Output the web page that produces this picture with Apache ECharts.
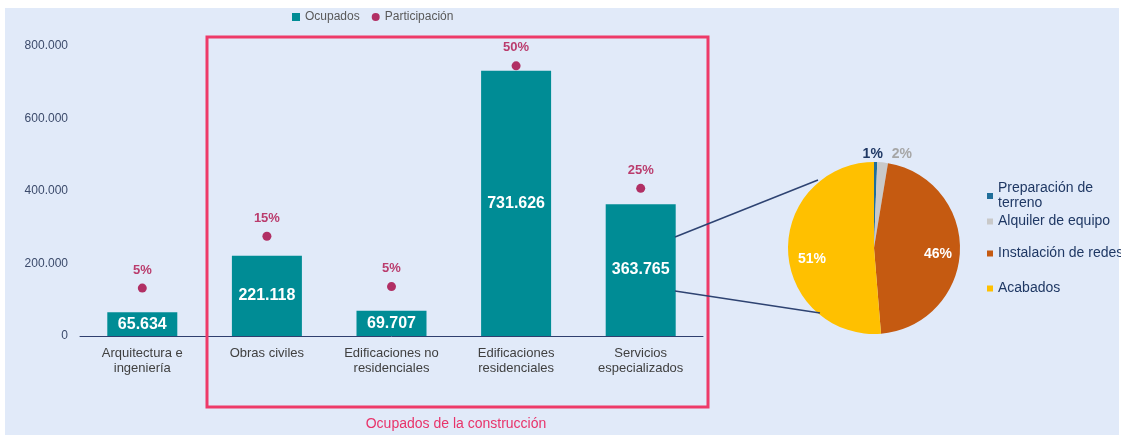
<!DOCTYPE html>
<html>
<head>
<meta charset="utf-8">
<script src="https://cdn.jsdelivr.net/npm/echarts@6/dist/echarts.min.js"></script>
<style>
html,body{margin:0;padding:0;background:#ffffff;}
#chart{width:1121px;height:436px;}
</style>
</head>
<body>
<div id="chart"></div>
<script>
// ---- data ----
const categories = ['Arquitectura e\ningeniería', 'Obras civiles', 'Edificaciones no\nresidenciales', 'Edificaciones\nresidenciales', 'Servicios\nespecializados'];
const ocupados = [65634, 221118, 69707, 731626, 363765];
const participacion = [0.045, 0.152, 0.048, 0.504, 0.251];
const yTicks = [0, 200000, 400000, 600000, 800000];
const pieNames = ['Preparación de\nterreno', 'Alquiler de equipo', 'Instalación de redes', 'Acabados'];
const pieValues = [0.6, 2.0, 46.1, 51.3];
const boxTitle = 'Ocupados de la construcción';

const FONT = '"Liberation Sans", Arial, sans-serif';
const fmtThousands = v => String(Math.round(v)).replace(/\B(?=(\d{3})+(?!\d))/g, '.');

const pieColors = ['#1F6E9A', '#C9C9C9', '#C55A11', '#FFC000'];
const pieLabelColors = ['#1F3864', '#A6A6A6', '#FFFFFF', '#FFFFFF'];
const pieLabelPos = ['outside', 'outside', 'inside', 'inside'];

const chart = echarts.init(document.getElementById('chart'), null, {renderer: 'canvas'});

const option = {
  backgroundColor: '#ffffff',
  animation: false,
  textStyle: {fontFamily: FONT},
  graphic: [
    {type: 'rect', z: -10, silent: true, shape: {x: 5, y: 8, width: 1114, height: 427}, style: {fill: '#E1EAF9'}},
    {type: 'rect', z: 10, silent: true, shape: {x: 207, y: 37, width: 501, height: 370}, style: {fill: null, stroke: '#EE3A69', lineWidth: 3}},
    {type: 'text', z: 10, silent: true, x: 456, y: 424, style: {text: boxTitle, fill: '#E8336A', font: '14px ' + FONT, textAlign: 'center', textVerticalAlign: 'middle'}},
    {type: 'line', z: 10, silent: true, shape: {x1: 675, y1: 237, x2: 818, y2: 180}, style: {stroke: '#2E4372', lineWidth: 1.5}},
    {type: 'line', z: 10, silent: true, shape: {x1: 675, y1: 291, x2: 820, y2: 313}, style: {stroke: '#2E4372', lineWidth: 1.5}}
  ],
  legend: [
    {
      data: [{name: 'Ocupados', icon: 'rect'}, {name: 'Participación', icon: 'circle'}],
      left: 292, top: 11, padding: 0,
      itemWidth: 8, itemHeight: 8, itemGap: 12,
      textStyle: {fontSize: 12, color: '#595959', fontFamily: FONT}
    },
    {
      data: [pieNames[0], pieNames[1]],
      orient: 'vertical', left: 987, top: 181, padding: 0,
      icon: 'rect', itemWidth: 6, itemHeight: 6, itemGap: 3,
      textStyle: {fontSize: 14, lineHeight: 15, color: '#1F3864', fontFamily: FONT}
    },
    {
      data: [pieNames[2], pieNames[3]],
      orient: 'vertical', left: 987, top: 246, padding: 0,
      icon: 'rect', itemWidth: 6, itemHeight: 6, itemGap: 20,
      textStyle: {fontSize: 14, lineHeight: 15, color: '#1F3864', fontFamily: FONT}
    }
  ],
  grid: {left: 80, top: 46, width: 623, height: 290, containLabel: false},
  xAxis: {
    type: 'category',
    data: categories,
    axisLine: {lineStyle: {color: '#2F3F6F', width: 1}},
    axisTick: {show: false},
    axisLabel: {fontSize: 13, lineHeight: 15, color: '#404040', margin: 10, interval: 0, fontFamily: FONT}
  },
  yAxis: [
    {
      type: 'value', min: 0, max: 800000, interval: 200000,
      axisLine: {show: false}, axisTick: {show: false}, splitLine: {show: false},
      axisLabel: {fontSize: 12, color: '#3B4A6B', margin: 12, fontFamily: FONT,
        formatter: v => yTicks.indexOf(v) >= 0 ? fmtThousands(v) : ''}
    },
    {
      type: 'value', min: -0.054, max: 0.545, show: false, splitLine: {show: false}
    }
  ],
  series: [
    {
      name: 'Ocupados', type: 'bar', data: ocupados, barWidth: 70,
      itemStyle: {color: '#008C95'},
      label: {show: true, position: 'inside', color: '#ffffff', fontWeight: 'bold', fontSize: 16, fontFamily: FONT,
        formatter: p => fmtThousands(p.value)}
    },
    {
      name: 'Participación', type: 'scatter', yAxisIndex: 1, data: participacion,
      symbol: 'circle', symbolSize: 9,
      itemStyle: {color: '#A5003F'},
      label: {show: true, position: 'top', distance: 7, color: '#B0104A', fontWeight: 'bold', fontSize: 13, fontFamily: FONT,
        formatter: p => Math.round(p.value * 100) + '%'}
    },
    {
      name: 'Pie', type: 'pie', center: [874, 248], radius: 86,
      startAngle: 90, clockwise: true, avoidLabelOverlap: false,
      legendHoverLink: false,
      data: pieNames.map((n, i) => ({
        name: n, value: pieValues[i],
        itemStyle: {color: pieColors[i]},
        label: {position: pieLabelPos[i], color: pieLabelColors[i]}
      })),
      itemStyle: {borderColor: '#ffffff', borderWidth: 0},
      label: {show: true, fontWeight: 'bold', fontSize: 14, fontFamily: FONT,
        formatter: p => Math.round(p.value) + '%'},
      labelLine: {show: false, length: 0, length2: 0},
      labelLayout: function (params) {
        const adj = [[-18, -8], [4, -8], [18, 4], [-16, 9]];
        const a = adj[params.dataIndex];
        return {dx: a[0], dy: a[1], hideOverlap: false, moveOverlap: null};
      }
    }
  ]
};
chart.setOption(option);
</script>
</body>
</html>
